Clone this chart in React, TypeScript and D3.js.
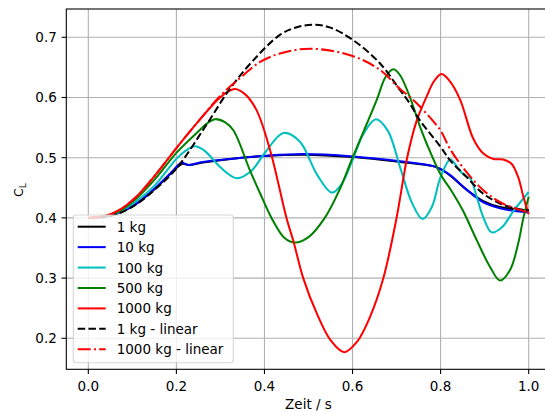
import React from "react";
import * as d3 from "d3";

// ---- data (time in s, lift coefficient C_L) ----
const cl1kg: [number, number][] = [
  [0, 0.4], [0.038, 0.402], [0.068, 0.408], [0.106, 0.422], [0.151, 0.448], [0.19, 0.476], [0.205, 0.486],
  [0.214, 0.49], [0.229, 0.488], [0.26, 0.492], [0.322, 0.498], [0.4, 0.503], [0.49, 0.505], [0.6, 0.501],
  [0.708, 0.493], [0.783, 0.486], [0.8, 0.481], [0.822, 0.47], [0.859, 0.447], [0.897, 0.428], [0.935, 0.418],
  [0.973, 0.414], [1.0, 0.412],
];
const cl10kg: [number, number][] = [
  [0, 0.4], [0.038, 0.402], [0.068, 0.408], [0.106, 0.422], [0.151, 0.449], [0.19, 0.477], [0.203, 0.487],
  [0.212, 0.492], [0.227, 0.488], [0.26, 0.493], [0.322, 0.498], [0.4, 0.503], [0.49, 0.506], [0.6, 0.502],
  [0.708, 0.494], [0.783, 0.486], [0.8, 0.481], [0.822, 0.471], [0.859, 0.447], [0.897, 0.426], [0.935, 0.416],
  [0.973, 0.411], [1.0, 0.409],
];
const cl100kg: [number, number][] = [
  [0, 0.4], [0.038, 0.402], [0.068, 0.409], [0.106, 0.426], [0.151, 0.454], [0.2, 0.498], [0.222, 0.512],
  [0.242, 0.519], [0.265, 0.511], [0.3, 0.484], [0.337, 0.466], [0.37, 0.478], [0.4, 0.507], [0.443, 0.541],
  [0.48, 0.527], [0.52, 0.471], [0.553, 0.442], [0.575, 0.456], [0.6, 0.496], [0.625, 0.54], [0.653, 0.564],
  [0.68, 0.545], [0.708, 0.484], [0.735, 0.425], [0.759, 0.398], [0.78, 0.418], [0.8, 0.468], [0.822, 0.497],
  [0.84, 0.482], [0.855, 0.47], [0.867, 0.466], [0.882, 0.435], [0.897, 0.401], [0.916, 0.376], [0.94, 0.385],
  [0.965, 0.411], [1.0, 0.443],
];
const cl500kg: [number, number][] = [
  [0, 0.4], [0.038, 0.403], [0.068, 0.41], [0.106, 0.43], [0.151, 0.464], [0.2, 0.508], [0.246, 0.541],
  [0.27, 0.557], [0.288, 0.564], [0.31, 0.559], [0.329, 0.546], [0.367, 0.479], [0.39, 0.441], [0.416, 0.4],
  [0.445, 0.367], [0.469, 0.359], [0.5, 0.368], [0.537, 0.4], [0.57, 0.446], [0.6, 0.5], [0.655, 0.596],
  [0.675, 0.634], [0.693, 0.647], [0.708, 0.637], [0.73, 0.601], [0.753, 0.552], [0.768, 0.524], [0.8, 0.472],
  [0.822, 0.448], [0.85, 0.413], [0.882, 0.363], [0.912, 0.319], [0.935, 0.296], [0.958, 0.314], [0.976, 0.357],
  [0.988, 0.4], [1.0, 0.435],
];
const cl1000kg: [number, number][] = [
  [0, 0.4], [0.038, 0.403], [0.068, 0.412], [0.106, 0.433], [0.151, 0.47], [0.2, 0.516], [0.246, 0.557],
  [0.292, 0.595], [0.315, 0.609], [0.333, 0.614], [0.355, 0.606], [0.382, 0.579], [0.413, 0.512], [0.45, 0.4],
  [0.467, 0.358], [0.488, 0.3], [0.522, 0.236], [0.55, 0.197], [0.581, 0.177], [0.61, 0.194], [0.64, 0.236],
  [0.67, 0.3], [0.7, 0.4], [0.724, 0.5], [0.745, 0.56], [0.768, 0.601], [0.785, 0.627], [0.802, 0.639],
  [0.82, 0.628], [0.844, 0.597], [0.874, 0.532], [0.897, 0.507], [0.92, 0.498], [0.942, 0.497], [0.961, 0.49],
  [0.976, 0.468], [0.988, 0.435], [1.0, 0.406],
];
const cl1kgLinear: [number, number][] = [
  [0, 0.4], [0.038, 0.402], [0.068, 0.407], [0.106, 0.421], [0.151, 0.447], [0.2, 0.482], [0.265, 0.551],
  [0.322, 0.615], [0.375, 0.662], [0.435, 0.704], [0.47, 0.716], [0.511, 0.721], [0.55, 0.716], [0.6, 0.696],
  [0.662, 0.657], [0.708, 0.612], [0.73, 0.59], [0.753, 0.562], [0.8, 0.518], [0.821, 0.496], [0.859, 0.468],
  [0.897, 0.44], [0.935, 0.424], [0.973, 0.415], [1.0, 0.413],
];
const cl1000kgLinear: [number, number][] = [
  [0, 0.4], [0.038, 0.403], [0.068, 0.412], [0.106, 0.433], [0.151, 0.47], [0.2, 0.516], [0.246, 0.557],
  [0.3, 0.603], [0.344, 0.632], [0.39, 0.659], [0.435, 0.673], [0.504, 0.681], [0.6, 0.669], [0.662, 0.646],
  [0.708, 0.614], [0.73, 0.601], [0.753, 0.585], [0.8, 0.545], [0.821, 0.515], [0.859, 0.476], [0.897, 0.446],
  [0.935, 0.426], [0.973, 0.415], [1.0, 0.409],
];

const seriesLabels = ["1 kg", "10 kg", "100 kg", "500 kg", "1000 kg", "1 kg - linear", "1000 kg - linear"];
const xTicks = [0.0, 0.2, 0.4, 0.6, 0.8, 1.0];
const yTicks = [0.2, 0.3, 0.4, 0.5, 0.6, 0.7];
const xLabel = "Zeit / s";

const FONT = "'DejaVu Sans', sans-serif";
const LW = 2.03;

export default function App() {
  const left = 66.3, right = 550.7, top = 9, bottom = 369.3;
  const x = d3.scaleLinear().domain([-0.05, 1.05]).range([left, right]);
  const y = d3.scaleLinear().domain([0.1485, 0.747]).range([bottom, top]);
  const line = d3
    .line<[number, number]>()
    .x((d) => x(d[0]))
    .y((d) => y(d[1]))
    .curve(d3.curveCatmullRom.alpha(0.5));

  const series = [
    { data: cl1kg, color: "#000000", dash: undefined as string | undefined },
    { data: cl10kg, color: "#0000ff", dash: undefined },
    { data: cl100kg, color: "#00bfbf", dash: undefined },
    { data: cl500kg, color: "#008000", dash: undefined },
    { data: cl1000kg, color: "#ff0000", dash: undefined },
    { data: cl1kgLinear, color: "#000000", dash: "7.5 3.25" },
    { data: cl1000kgLinear, color: "#ff0000", dash: "13 3.25 2 3.25" },
  ];

  const tickLen = 4.75;
  const fs = 13.5;
  const legX = 73.3, legY = 215, legW = 160, legH = 147.7;
  const rowY0 = 226.7, rowStep = 20.43;

  return (
    <svg
      width={545}
      height={412}
      style={{ position: "absolute", left: 0, top: 0, background: "#fff" }}
      fontFamily={FONT}
    >
      <rect x={0} y={0} width={545} height={412} fill="#fff" />
      <defs>
        <clipPath id="plotclip">
          <rect x={left} y={top} width={right - left} height={bottom - top} />
        </clipPath>
      </defs>
      {/* grid */}
      {xTicks.map((t) => (
        <line key={"gx" + t} x1={x(t)} x2={x(t)} y1={top} y2={bottom} stroke="#b0b0b0" strokeWidth={1.08} />
      ))}
      {yTicks.map((t) => (
        <line key={"gy" + t} x1={left} x2={right} y1={y(t)} y2={y(t)} stroke="#b0b0b0" strokeWidth={1.08} />
      ))}
      {/* lines */}
      <g clipPath="url(#plotclip)">
        {series.map((s, i) => (
          <path
            key={i}
            d={line(s.data) || ""}
            fill="none"
            stroke={s.color}
            strokeWidth={LW}
            strokeDasharray={s.dash}
            strokeLinejoin="round"
          />
        ))}
      </g>
      {/* spines */}
      <rect x={left} y={top} width={right - left} height={bottom - top} fill="none" stroke="#000" strokeWidth={1.08} />
      {/* ticks */}
      {xTicks.map((t) => (
        <g key={"tx" + t}>
          <line x1={x(t)} x2={x(t)} y1={bottom} y2={bottom + tickLen} stroke="#000" strokeWidth={1.08} />
          <text x={x(t)} y={390.7} fontSize={fs} textAnchor="middle" fill="#000">
            {t.toFixed(1)}
          </text>
        </g>
      ))}
      {yTicks.map((t) => (
        <g key={"ty" + t}>
          <line x1={left - tickLen} x2={left} y1={y(t)} y2={y(t)} stroke="#000" strokeWidth={1.08} />
          <text x={left - 2 * tickLen} y={y(t) + 5} fontSize={fs} textAnchor="end" fill="#000">
            {t.toFixed(1)}
          </text>
        </g>
      ))}
      {/* axis labels */}
      <text x={(left + right) / 2} y={408.5} fontSize={fs} textAnchor="middle" fill="#000">
        {xLabel}
      </text>
      <text transform={`translate(22.5, 190) rotate(-90)`} fontSize={12.5} textAnchor="middle" fill="#000">
        C
        <tspan fontSize={9} dy={3}>
          L
        </tspan>
      </text>
      {/* legend */}
      <rect
        x={legX}
        y={legY}
        width={legW}
        height={legH}
        rx={2.7}
        ry={2.7}
        fill="#ffffff"
        fillOpacity={0.8}
        stroke="#cccccc"
        strokeOpacity={0.8}
        strokeWidth={1.08}
      />
      {series.map((s, i) => {
        const ry = rowY0 + i * rowStep;
        return (
          <g key={"leg" + i}>
            <line x1={77.7} x2={105.7} y1={ry} y2={ry} stroke={s.color} strokeWidth={LW} strokeDasharray={s.dash} />
            <text x={116.7} y={ry + 5} fontSize={fs} fill="#000">
              {seriesLabels[i]}
            </text>
          </g>
        );
      })}
    </svg>
  );
}
